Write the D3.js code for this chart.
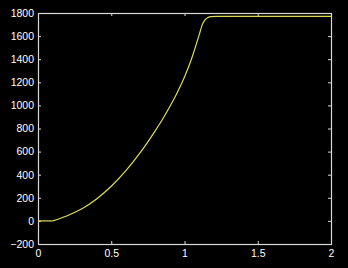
<!DOCTYPE html>
<html><head><meta charset="utf-8">
<script src="https://cdn.jsdelivr.net/npm/d3@7"></script>
<style>html,body{margin:0;padding:0;background:#000;}svg{display:block;}</style>
</head><body>
<script>
const xTicks = [0, 0.5, 1, 1.5, 2];
const yTicks = [-200, 0, 200, 400, 600, 800, 1000, 1200, 1400, 1600, 1800];
const xValues = [0, 0.1, 0.2, 0.3, 0.4, 0.5, 0.6, 0.7, 0.8, 0.85, 0.9, 0.95, 1.0, 1.05, 1.1, 1.12, 1.14, 1.16, 1.18, 1.22, 1.5, 2.0];
const yValues = [0, 0, 45, 105, 190, 300, 435, 595, 780, 880, 990, 1110, 1245, 1410, 1610, 1695, 1740, 1761, 1769, 1770, 1770, 1770];

const W = 348, H = 268;
const m = {left: 38, right: 17, top: 13, bottom: 24};
const svg = d3.select("body").append("svg").attr("width", W).attr("height", H)
  .style("background", "#000");
const x = d3.scaleLinear().domain([0, 2]).range([m.left, W - m.right]);
const y = d3.scaleLinear().domain([-200, 1800]).range([H - m.bottom, m.top]);
const axisColor = "#d8d8d8";
const font = "Liberation Sans, Arial, sans-serif";

function style(g) {
  g.select(".domain").remove();
  g.selectAll(".tick line").attr("stroke", axisColor);
  g.selectAll(".tick text").attr("fill", "#fff").style("font-family", font).style("font-size", "10.5px");
}
svg.append("g").attr("transform", `translate(0,${H - m.bottom})`)
  .call(d3.axisBottom(x).tickValues(xTicks).tickSize(-3).tickPadding(6).tickFormat(d3.format("")))
  .call(style);
svg.append("g").attr("transform", `translate(${m.left},0)`)
  .call(d3.axisLeft(y).tickValues(yTicks).tickSize(-3).tickPadding(4).tickFormat(d3.format("")))
  .call(style);
svg.append("g").attr("transform", `translate(0,${m.top})`)
  .call(d3.axisTop(x).tickValues(xTicks).tickSize(-3).tickFormat(""))
  .call(style);
svg.append("g").attr("transform", `translate(${W - m.right},0)`)
  .call(d3.axisRight(y).tickValues(yTicks).tickSize(-3).tickFormat(""))
  .call(style);
svg.append("rect").attr("x", m.left + 0.5).attr("y", m.top + 0.5)
  .attr("width", W - m.left - m.right).attr("height", H - m.top - m.bottom)
  .attr("fill", "none").attr("stroke", axisColor).attr("stroke-width", 1.2);

const data = xValues.map((d, i) => [d, yValues[i]]);
const flat = data.filter(d => d[0] <= 0.1);
const rise = data.filter(d => d[0] >= 0.1);
const line = d3.line().x(d => x(d[0])).y(d => y(d[1]));
svg.append("path").datum(flat)
  .attr("fill", "none").attr("stroke", "#dede55").attr("stroke-width", 1.2)
  .attr("d", line);
svg.append("path").datum(rise)
  .attr("fill", "none").attr("stroke", "#dede55").attr("stroke-width", 1.2)
  .attr("d", line.curve(d3.curveMonotoneX));
</script>
</body></html>
